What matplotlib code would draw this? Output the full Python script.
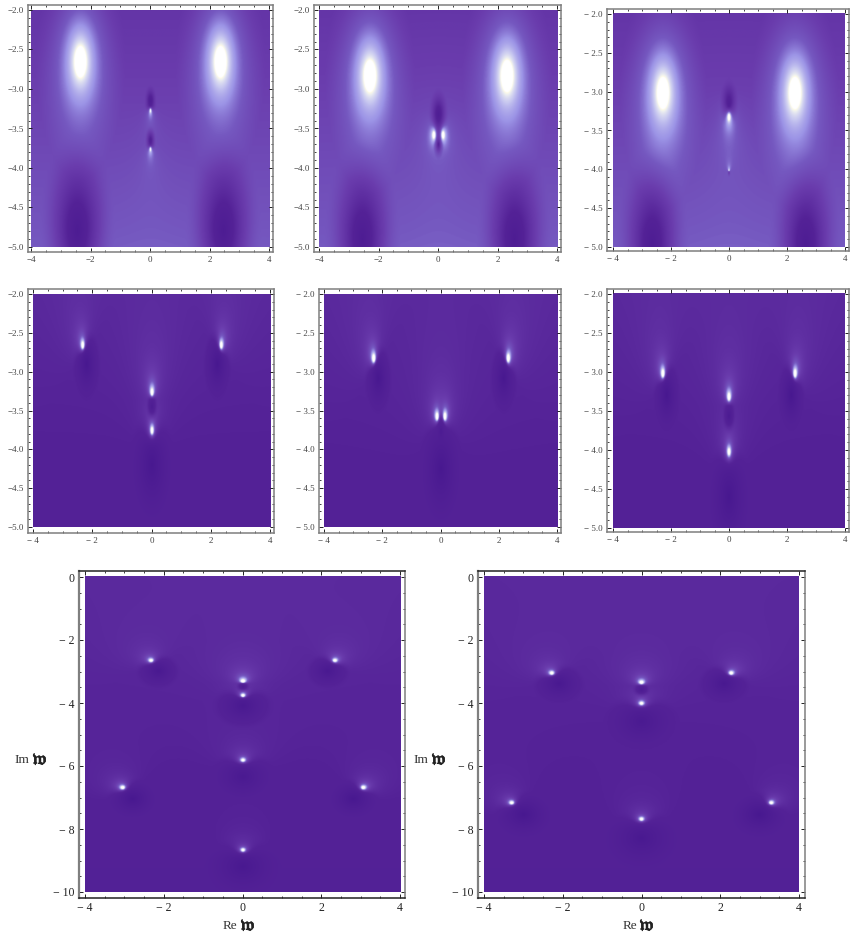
import numpy as np
import matplotlib
matplotlib.use('Agg')
import matplotlib.pyplot as plt
from matplotlib.colors import LinearSegmentedColormap
import matplotlib.patheffects as pe

plt.rcParams['font.family'] = ['Liberation Serif', 'DejaVu Sans']
plt.rcParams['mathtext.fontset'] = 'stix'

W, H = 855, 935

# wide round maxima of the top row (re, im)
blobs_1 = [(-2.35, -2.65), (2.35, -2.65)]
blobs_2 = [(-2.3, -2.83), (2.3, -2.83)]
blobs_3 = [(-2.28, -3.02), (2.28, -3.02)]

# poles, zeros (re, im) and pole strength
poles_1 = [(0, -3.27), (0, -3.76)]
zeros_1 = [(0, -3.15), (0, -3.65)]
amp_1 = [0.12, 0.12]
dips_1 = [(-2.45, -4.8), (2.45, -4.8), (0, -3.15), (0, -3.65)]
dep_1 = [0.3, 0.3, 0.22, 0.22]
wid_1 = [1.3, 1.3, 0.22, 0.2]

poles_2 = [(-0.15, -3.58), (0.15, -3.58), (-0.15, -3.58), (0.15, -3.58)]
zeros_2 = [(0, -3.32), (0, -3.32), (0, -3.7), (0, -3.7)]
amp_2 = [0.06, 0.06, 0.06, 0.06]
dips_2 = [(-2.55, -4.9), (2.55, -4.9), (0, -3.32), (0, -3.7)]
dep_2 = [0.3, 0.3, 0.24, 0.24]
wid_2 = [1.3, 1.3, 0.35, 0.2]

poles_3 = [(0, -3.33), (0, -3.33), (0, -4.02)]
zeros_3 = [(0, -3.17), (0, -2.6), (0, -4.05)]
amp_3 = [0.05, 0.03, 0.25]
dips_3 = [(-2.65, -4.97), (2.65, -4.97), (0, -3.17), (0, -4.05)]
dep_3 = [0.3, 0.3, 0.24, 0.1]
wid_3 = [1.3, 1.3, 0.35, 0.06]

poles_4 = [(-2.33, -2.66), (2.33, -2.66), (0, -3.27), (0, -3.76)]
zeros_4 = [(-2.2, -2.9), (2.2, -2.9), (0, -3.45), (0, -4.2)]
amp_4 = [0.133, 0.133, 0.2, 0.076]
dips_4 = zeros_4
dep_4 = [0.22, 0.22, 0.2, 0.2]
wid_4 = [0.5, 0.5, 0.22, 0.8]

poles_5 = [(-2.3, -2.83), (2.3, -2.83), (-0.13, -3.58), (0.13, -3.58)]
zeros_5 = [(-2.15, -3.08), (2.15, -3.08), (0, -3.76), (0, -3.76)]
amp_5 = [0.14, 0.14, 0.17, 0.17]
dips_5 = [(-2.15, -3.08), (2.15, -3.08), (0, -3.76), (0, -4.25)]
dep_5 = [0.22, 0.22, 0.1, 0.2]
wid_5 = [0.5, 0.5, 0.15, 0.8]

poles_6 = [(-2.28, -3.03), (2.28, -3.03), (0, -3.33), (0, -4.03)]
zeros_6 = [(-2.15, -3.3), (2.15, -3.3), (0, -3.57), (0, -4.6)]
amp_6 = [0.133, 0.133, 0.155, 0.058]
dips_6 = zeros_6
dep_6 = [0.22, 0.22, 0.2, 0.2]
wid_6 = [0.5, 0.5, 0.25, 0.8]

poles_7 = [(-2.33, -2.67), (2.33, -2.67), (0, -3.33), (0, -3.78), (0, -5.83),
           (-3.05, -6.7), (3.05, -6.7), (0, -8.68)]
zeros_7 = [(-2.15, -3.0), (2.15, -3.0), (0, -3.5), (0, -4.1), (0, -6.35),
           (-2.8, -7.05), (2.8, -7.05), (0, -9.2)]
amp_7 = [0.085, 0.085, 0.25, 0.11, 0.062, 0.085, 0.085, 0.062]
dips_7 = zeros_7
dep_7 = [0.2, 0.2, 0.2, 0.2, 0.17, 0.2, 0.2, 0.17]
wid_7 = [0.6, 0.6, 0.2, 0.8, 0.9, 0.7, 0.7, 1.0]

poles_8 = [(-2.28, -3.07), (2.28, -3.07), (0, -3.37), (0, -4.03),
           (-3.3, -7.18), (3.3, -7.18), (0, -7.7)]
zeros_8 = [(-2.1, -3.4), (2.1, -3.4), (0, -3.6), (0, -4.6),
           (-3.0, -7.55), (3.0, -7.55), (0, -8.3)]
amp_8 = [0.095, 0.095, 0.165, 0.058, 0.071, 0.071, 0.054]
dips_8 = zeros_8
dep_8 = [0.2, 0.2, 0.2, 0.17, 0.2, 0.2, 0.17]
wid_8 = [0.7, 0.7, 0.25, 1.0, 0.8, 0.8, 1.0]

small_yticks = [-5.0, -4.5, -4.0, -3.5, -3.0, -2.5, -2.0]
ylabels_tight = ['\u22125.0', '\u22124.5', '\u22124.0', '\u22123.5', '\u22123.0', '\u22122.5', '\u22122.0']
ylabels_wide = ['\u2212 5.0', '\u2212 4.5', '\u2212 4.0', '\u2212 3.5', '\u2212 3.0', '\u2212 2.5', '\u2212 2.0']
xticks = [-4, -2, 0, 2, 4]
xlabels_tight = ['\u22124', '\u22122', '0', '2', '4']
xlabels_wide = ['\u2212 4', '\u2212 2', '0', '2', '4']
big_yticks = [-10, -8, -6, -4, -2, 0]
big_ylabels = ['\u2212 10', '\u2212 8', '\u2212 6', '\u2212 4', '\u2212 2', '0']

cmap = LinearSegmentedColormap.from_list('purple', [
    (0.00, '#3f1085'), (0.10, '#481890'), (0.31, '#542297'), (0.42, '#6a3cad'),
    (0.50, '#7558c0'), (0.58, '#9c94e6'), (0.70, '#c8c8f0'), (0.82, '#eef0f0'),
    (0.86, '#fffbe6'), (0.88, '#ffffff'), (1.00, '#ffffff')])

fig = plt.figure(figsize=(W / 100, H / 100), dpi=100)


def panel(img_box, frame_box, ylim, poles, zeros, amps, dips, deps, wids, base, yticks, ylabels, xlabels,
          yminor, fs, color, blobs=(), big=False):
    # boxes are in pixels: left, top, right, bottom
    fl, ft, fr, fb = frame_box
    il, it, ir, ib = img_box
    ax = fig.add_axes([fl / W, 1 - fb / H, (fr - fl) / W, (fb - ft) / H])
    sx = 8 / (ir - il)
    sy = (ylim[1] - ylim[0]) / (ib - it)
    ax.set_xlim(-4 - (il - fl) * sx, 4 + (fr - ir) * sx)
    ax.set_ylim(ylim[0] - (fb - ib) * sy, ylim[1] + (it - ft) * sy)

    xs = np.linspace(-4, 4, 500)
    ys = np.linspace(ylim[0], ylim[1], 500)
    X, Y = np.meshgrid(xs, ys)
    Z = base[0] + (base[1] - base[0]) * (Y - ylim[0]) / (ylim[1] - ylim[0])
    for b in blobs:
        dp = np.hypot(X - b[0], Y - b[1]) + 1e-3
        Z = Z + 0.13 * np.clip((1.5 / dp) ** 0.75 - 1, 0, None)
    for p, z, a in zip(poles, zeros, amps):
        dp = np.hypot(X - p[0], Y - p[1]) + 1e-3
        dz = np.hypot(X - z[0], Y - z[1]) + 1e-3
        Z = Z + a * np.clip((dz / dp) ** 0.75 - 1, 0, None) ** 1.25
    for z, d, w in zip(dips, deps, wids):
        dz = np.hypot(X - z[0], Y - z[1])
        Z = Z - d * np.clip(1 - dz / w, 0, None) ** 1.7
    ax.imshow(Z, extent=[-4, 4, ylim[0], ylim[1]], origin='lower', aspect='auto',
              cmap=cmap, vmin=0, vmax=1, interpolation='bilinear', zorder=1)

    ax.set_xticks(xticks)
    ax.set_xticklabels(xlabels)
    ax.set_yticks(yticks)
    ax.set_yticklabels(ylabels)
    ax.set_xticks(np.arange(-4, 4.01, 0.5), minor=True)
    ax.set_yticks(np.arange(ylim[0], ylim[1] + 0.001, yminor), minor=True)
    ax.tick_params(which='major', direction='in', length=3, width=0.7, top=True, right=True,
                   labelsize=fs, labelcolor=color, pad=3, color='#222222')
    ax.tick_params(which='minor', direction='in', length=1.5, width=0.6, top=True, right=True,
                   color='#222222')
    for s in ax.spines.values():
        s.set_color('#7f7f7f')
        s.set_linewidth(1.1)
    if big:
        ax.spines['top'].set_color('#222222')
        ax.spines['bottom'].set_color('#222222')
        ax.spines['left'].set_linewidth(1.6)
    return ax


panel((31, 10, 269, 247), (28, 5, 273, 252), (-5, -2), poles_1, zeros_1, amp_1, dips_1, dep_1, wid_1, (0.50, 0.39),
      small_yticks, ylabels_tight, xlabels_tight, 0.1, 6.5, '#444444', blobs=blobs_1)
panel((319, 10, 557, 247), (314, 5, 561, 252), (-5, -2), poles_2, zeros_2, amp_2, dips_2, dep_2, wid_2, (0.50, 0.39),
      small_yticks, ylabels_tight, xlabels_tight, 0.1, 6.5, '#444444', blobs=blobs_2)
panel((613, 14, 845, 247), (607, 9, 849, 251), (-5, -2), poles_3, zeros_3, amp_3, dips_3, dep_3, wid_3, (0.50, 0.39),
      small_yticks, ylabels_wide, xlabels_wide, 0.1, 6.5, '#444444', blobs=blobs_3)
panel((33, 294, 270, 527), (28, 289, 274, 533), (-5, -2), poles_4, zeros_4, amp_4, dips_4, dep_4, wid_4, (0.30, 0.33),
      small_yticks, ylabels_tight, xlabels_wide, 0.1, 6.5, '#444444')
panel((324, 294, 557, 527), (319, 289, 561, 533), (-5, -2), poles_5, zeros_5, amp_5, dips_5, dep_5, wid_5, (0.30, 0.33),
      small_yticks, ylabels_wide, xlabels_wide, 0.1, 6.5, '#444444')
panel((613, 294, 845, 528), (607, 289, 849, 532), (-5, -2), poles_6, zeros_6, amp_6, dips_6, dep_6, wid_6, (0.30, 0.33),
      small_yticks, ylabels_wide, xlabels_wide, 0.1, 6.5, '#444444')
panel((85, 577, 400, 892), (79, 571, 405, 898), (-10, 0), poles_7, zeros_7, amp_7, dips_7, dep_7, wid_7, (0.29, 0.33),
      big_yticks, big_ylabels, xlabels_wide, 0.5, 8.5, '#222222', big=True)
panel((484, 577, 799, 892), (478, 571, 805, 898), (-10, 0), poles_8, zeros_8, amp_8, dips_8, dep_8, wid_8, (0.29, 0.33),
      big_yticks, big_ylabels, xlabels_wide, 0.5, 8.5, '#222222', big=True)

bold = [pe.withStroke(linewidth=0.4, foreground='#222222')]
for x, y, s in [(230, 926, 'Re'), (630, 926, 'Re'), (22, 760, 'Im'), (421, 760, 'Im')]:
    fig.text(x / W, 1 - y / H, s, fontsize=9.5, color='#333333', ha='center', va='center')
for x, y in [(248, 926), (647, 926), (40, 760), (439, 760)]:
    fig.text(x / W, 1 - y / H, '$\\mathfrak{w}$', fontsize=13.5, color='#222222', ha='center',
             va='center', path_effects=bold)

fig.savefig('out.png', dpi=100)
